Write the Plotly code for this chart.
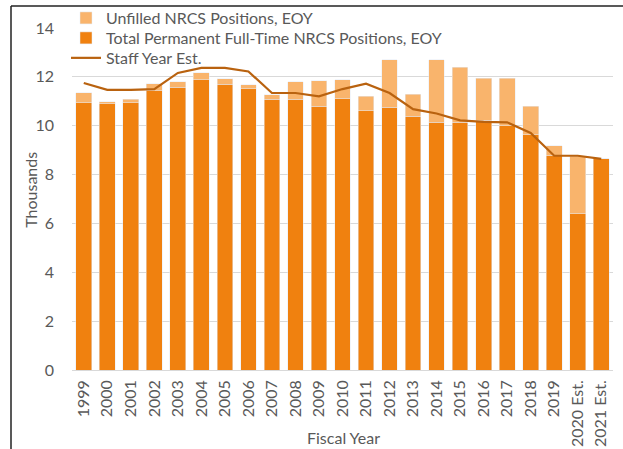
import plotly.graph_objects as go

years = ["1999", "2000", "2001", "2002", "2003", "2004", "2005", "2006", "2007", "2008",
         "2009", "2010", "2011", "2012", "2013", "2014", "2015", "2016", "2017", "2018",
         "2019", "2020 Est.", "2021 Est."]
# Thousands
total_positions = [10.95, 10.89, 10.95, 11.43, 11.57, 11.88, 11.70, 11.52, 11.09, 11.09,
                   10.79, 11.10, 10.61, 10.75, 10.38, 10.14, 10.14, 10.22, 10.00, 9.63,
                   8.77, 6.40, 8.64]
unfilled_positions = [0.39, 0.10, 0.14, 0.29, 0.24, 0.28, 0.22, 0.16, 0.18, 0.70,
                      1.06, 0.78, 0.59, 1.95, 0.90, 2.56, 2.26, 1.72, 1.94, 1.16,
                      0.40, 2.34, 0.0]
staff_year_est = [11.75, 11.47, 11.47, 11.50, 12.16, 12.37, 12.37, 12.22, 11.34, 11.34,
                  11.20, 11.50, 11.72, 11.34, 10.68, 10.50, 10.22, 10.16, 10.14, 9.70,
                  8.77, 8.77, 8.64]

DARK = "#F0810F"
LIGHT = "#F9B46C"
LINE = "#B9620F"
GRAY = "#595959"
FONT = "Lato"

fig = go.Figure()
fig.add_trace(go.Bar(x=years, y=total_positions, name="Total Permanent Full-Time NRCS Positions, EOY",
                     marker=dict(color=DARK), legend="legend2"))
fig.add_trace(go.Bar(x=years, y=unfilled_positions, name="Unfilled NRCS Positions, EOY",
                     marker=dict(color=LIGHT), legend="legend"))
fig.add_trace(go.Scatter(x=years, y=staff_year_est, name="Staff Year Est.", mode="lines",
                         line=dict(color=LINE, width=2.2), legend="legend3"))

W, H = 623, 449
L, R, T = 72, 10, 28
B = H - 370.5
pw, ph = W - L - R, H - T - B

def px_x(px):
    return (px - L) / pw

def px_y(py):
    return (H - B - py) / ph

def leg(cy):
    return dict(x=px_x(66), y=px_y(cy), xanchor="left", yanchor="middle",
                bgcolor="rgba(0,0,0,0)", font=dict(size=16, color=GRAY, family=FONT),
                itemwidth=30)

fig.update_layout(
    width=W, height=H,
    margin=dict(l=L, r=R, t=T, b=B, pad=0, autoexpand=False),
    paper_bgcolor="white", plot_bgcolor="white",
    barmode="stack", bargap=0.33,
    font=dict(family=FONT, color=GRAY, size=16),
    showlegend=True,
    legend=leg(18), legend2=leg(38), legend3=leg(58),
    xaxis=dict(type="category", tickangle=-90, showgrid=False, showline=False,
               ticks="", ticklabelstandoff=6, tickfont=dict(size=16, color=GRAY)),
    yaxis=dict(range=[0, 14], dtick=2, showgrid=True, gridcolor="#D9D9D9", gridwidth=1,
               zeroline=True, zerolinecolor="#D9D9D9", zerolinewidth=1,
               showline=False, ticks="", ticklabelstandoff=17,
               tickfont=dict(size=16, color=GRAY)),
    annotations=[
        dict(text="Fiscal Year", xref="paper", yref="paper", x=px_x(343), y=px_y(438),
             xanchor="center", yanchor="middle", showarrow=False,
             font=dict(size=16, color=GRAY)),
        dict(text="Thousands", xref="paper", yref="paper", x=px_x(31), y=px_y(190),
             xanchor="center", yanchor="middle", showarrow=False, textangle=-90,
             font=dict(size=16, color=GRAY)),
    ],
    shapes=[
        dict(type="line", xref="paper", yref="paper", x0=px_x(11), x1=px_x(11),
             y0=px_y(6), y1=px_y(460), line=dict(color="#222222", width=1.5)),
        dict(type="line", xref="paper", yref="paper", x0=px_x(11), x1=px_x(640),
             y0=px_y(6), y1=px_y(6), line=dict(color="#222222", width=1.5)),
    ],
)

fig.write_html("out.html", config={"displayModeBar": False},
               post_script="document.body.style.margin='0';document.body.style.overflow='hidden';")
